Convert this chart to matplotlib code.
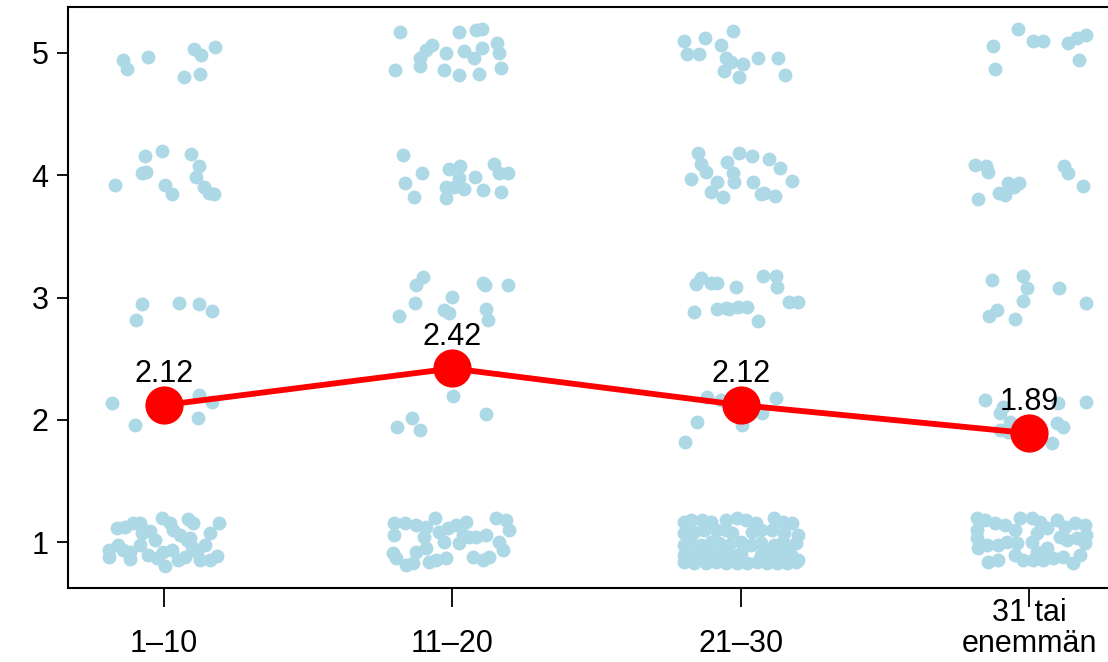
import matplotlib
matplotlib.use("Agg")
import matplotlib.pyplot as plt
import numpy as np

plt.rcParams['font.family'] = ['Liberation Sans', 'DejaVu Sans']

# group labels and means
groups = ["1\u201310", "11\u201320", "21\u201330", "31 tai\nenemm\u00e4n"]
means = [2.12, 2.42, 2.12, 1.89]
mean_labels = ["2.12", "2.42", "2.12", "1.89"]

# jittered answers (x jitter around group position, jittered y)
g1_dx = [-0.141, -0.127, -0.054, 0.069, 0.105, 0.128, 0.125, 0.177,
         -0.170, -0.075, -0.062, -0.066, -0.008, 0.003, 0.029, 0.093, 0.122, 0.111, 0.139, 0.156, 0.174,
         -0.077, -0.097, 0.052, 0.122, 0.165,
         -0.181, -0.101, 0.122, 0.165, 0.119,
         -0.164, -0.135, -0.106, -0.083, -0.077, -0.049, -0.008, 0.021, 0.032, 0.084, 0.102, 0.055,
         0.079, 0.160, 0.192, -0.190, -0.190, -0.159, -0.141, -0.118, -0.118, -0.054, -0.025, 0.003,
         -0.002, 0.027, 0.050, 0.073, 0.096, 0.113, 0.125, 0.160, 0.183, 0.090, -0.031, -0.083, 0.142]
g1_y = [4.941, 4.865, 4.968, 4.802, 5.031, 4.984, 4.827, 5.053,
        3.919, 4.015, 4.023, 4.154, 4.200, 3.919, 3.845, 4.170, 4.077, 3.987, 3.905, 3.856, 3.845,
        2.944, 2.815, 2.957, 2.944, 2.889,
        2.134, 1.957, 2.202, 2.147, 2.011,
        1.112, 1.125, 1.158, 1.158, 1.071, 1.092, 1.194, 1.153, 1.098, 1.186, 1.153, 1.057,
        1.016, 1.071, 1.153, 0.935, 0.875, 0.975, 0.935, 0.859, 0.921, 0.894, 0.867, 0.804,
        0.921, 0.935, 0.853, 0.880, 0.962, 0.921, 0.853, 0.853, 0.886, 1.030, 1.016, 0.975, 0.975]

g2_dx = [-0.180, -0.198, -0.111, -0.114, -0.091, -0.071, -0.022, -0.028, 0.022, 0.024, 0.042, 0.076,
         0.082, 0.103, 0.103, 0.091, 0.154, 0.161, 0.169,
         -0.172, -0.105, -0.166, -0.132, -0.013, 0.028, -0.022, -0.022, 0.024, 0.042, 0.080, 0.105,
         0.146, 0.163, 0.192, 0.169, 0.007,
         -0.103, -0.126, -0.128, -0.186, -0.001, -0.028, -0.010, 0.105, 0.114, 0.194, 0.117, 0.122,
         0.001, -0.193, -0.140, -0.114, 0.117,
         -0.201, -0.166, -0.126, -0.201, -0.207, -0.195, -0.161, -0.138, -0.126, -0.097, -0.091, -0.080,
         -0.057, -0.022, -0.062, -0.045, -0.016, 0.013, 0.048, 0.036, 0.024, 0.059, 0.082, 0.117,
         0.070, 0.105, 0.128, 0.152, 0.186, 0.198, 0.174, 0.163, -0.028, -0.091]
g2_y = [5.173, 4.859, 4.892, 4.963, 5.023, 5.064, 4.996, 4.859, 4.818, 5.173, 5.017, 4.963,
        5.186, 5.200, 5.037, 4.827, 5.078, 4.996, 4.881,
        4.164, 4.020, 3.933, 3.818, 4.050, 4.074, 3.900, 3.815, 3.974, 3.884, 3.987, 3.878,
        4.096, 4.015, 4.015, 3.864, 3.905,
        3.169, 3.101, 2.952, 2.848, 3.006, 2.897, 2.870, 3.115, 3.101, 3.101, 2.903, 2.815,
        2.196, 1.943, 2.011, 1.916, 2.047,
        1.153, 1.158, 1.139, 1.057, 0.908, 0.867, 0.812, 0.826, 0.921, 1.043, 0.948, 0.839,
        0.853, 0.867, 1.194, 1.084, 1.112, 1.139, 1.166, 1.057, 0.989, 1.043, 1.043, 1.057,
        0.880, 0.853, 0.880, 1.194, 1.180, 1.098, 0.935, 1.002, 1.002, 1.125]

g3_dx = [-0.197, -0.124, -0.185, -0.145, -0.067, -0.027, -0.052, -0.035, -0.058, 0.009, -0.006,
         0.061, 0.131, 0.154,
         -0.147, -0.139, -0.119, -0.173, -0.083, -0.104, -0.060, -0.046, -0.027, -0.023, -0.006,
         0.038, 0.043, 0.098, 0.136, 0.179, 0.069, 0.119, 0.081,
         -0.156, -0.139, -0.104, -0.081, -0.017, -0.162, -0.083, -0.052, -0.011, 0.023, 0.060,
         0.079, 0.121, 0.125, 0.168, 0.199, -0.041,
         -0.116, -0.069, 0.121, 0.075, -0.153, -0.193, 0.006,
         -0.197, -0.173, -0.133, -0.104, -0.052, -0.012, 0.017, 0.052, 0.116, 0.145, 0.179,
         -0.197, -0.162, -0.127, -0.087, -0.052, -0.029, 0.040, 0.069, 0.110, 0.150, 0.197,
         -0.197, -0.173, -0.139, -0.104, -0.075, -0.040, 0.000, 0.035, 0.069, 0.116, 0.145, 0.191, 0.168,
         -0.197, -0.179, -0.145, -0.110, -0.069, -0.035, 0.000, 0.069, 0.098, 0.133, 0.173, 0.197,
         -0.197, -0.162, -0.121, -0.087, -0.052, -0.012, 0.023, 0.058, 0.092, 0.127, 0.162, 0.191]
g3_y = [5.099, 5.124, 4.988, 4.990, 5.064, 5.178, 4.960, 4.927, 4.851, 4.908, 4.805,
        4.960, 4.960, 4.818,
        4.178, 4.091, 4.028, 3.966, 3.946, 3.864, 3.823, 4.105, 4.020, 3.946, 4.186,
        4.159, 3.946, 4.129, 4.060, 3.954, 3.845, 3.832, 3.851,
        3.110, 3.156, 3.115, 3.115, 3.083, 2.883, 2.903, 2.911, 2.919, 2.924, 2.809,
        3.175, 3.175, 3.088, 2.965, 2.965, 2.903,
        2.188, 2.161, 2.180, 2.052, 1.984, 1.815, 1.957,
        1.166, 1.180, 1.180, 1.166, 1.180, 1.194, 1.180, 1.153, 1.194, 1.166, 1.153,
        1.071, 1.084, 1.098, 1.098, 1.098, 1.071, 1.084, 1.098, 1.098, 1.071, 1.057,
        0.975, 0.989, 0.975, 1.003, 0.989, 0.975, 1.003, 0.975, 0.989, 0.975, 1.003, 0.989, 0.948,
        0.894, 0.908, 0.894, 0.908, 0.921, 0.894, 0.908, 0.894, 0.908, 0.921, 0.894, 0.853,
        0.839, 0.826, 0.826, 0.839, 0.826, 0.826, 0.826, 0.839, 0.826, 0.826, 0.826, 0.839]

g4_dx = [-0.126, -0.118, -0.037, 0.013, 0.050, 0.134, 0.165, 0.198, 0.174,
         -0.187, -0.149, -0.143, -0.176, -0.103, -0.083, -0.072, -0.051, -0.034, 0.122, 0.136, 0.188,
         -0.129, -0.020, -0.008, -0.022, -0.112, -0.138, -0.049, 0.105, 0.198,
         -0.153, -0.091, -0.101, -0.066, -0.101, 0.102, 0.198, 0.096, 0.119, 0.079, -0.072,
         -0.182, -0.153, -0.118, -0.083, -0.182, -0.182, -0.176, -0.147, -0.106, -0.077, -0.141,
         -0.106, -0.049, -0.043, -0.049, -0.020, -0.031, 0.009, 0.038, 0.061, 0.027, 0.009, 0.027,
         0.061, 0.084, 0.119, 0.154, 0.177, 0.194, 0.160, 0.125, 0.096, 0.131, 0.165, 0.198,
         0.194, 0.108, 0.050, 0.015]
g4_y = [5.058, 4.873, 5.200, 5.099, 5.099, 5.078, 5.119, 5.146, 4.941,
        4.083, 4.077, 4.028, 3.805, 3.851, 3.837, 3.933, 3.905, 3.933, 4.077, 4.015, 3.911,
        3.142, 3.175, 3.074, 2.973, 2.897, 2.848, 2.823, 3.074, 2.952,
        2.161, 2.106, 2.052, 1.984, 1.916, 2.134, 2.142, 1.971, 1.943, 1.812, 1.902,
        1.194, 1.180, 1.153, 1.139, 1.098, 1.030, 0.948, 0.975, 0.975, 1.003, 0.839,
        0.853, 1.098, 0.989, 0.894, 0.853, 1.194, 1.200, 1.166, 1.112, 1.071, 1.003, 0.921,
        0.948, 0.866, 0.880, 0.826, 0.894, 1.139, 1.153, 1.125, 1.180, 1.016, 1.030, 1.057,
        0.989, 1.044, 0.853, 0.853]

jitter_dx = [g1_dx, g2_dx, g3_dx, g4_dx]
jitter_y = [g1_y, g2_y, g3_y, g4_y]

fig = plt.figure(figsize=(11.08, 6.62), dpi=100)
ax = fig.add_axes([0.0614, 0.1118, 0.954, 0.8776])

pos = np.arange(1, len(groups) + 1)

for i in range(len(groups)):
    xs = pos[i] + np.array(jitter_dx[i])
    ax.plot(xs, jitter_y[i], 'o', color='lightblue', ms=10, mec='none', zorder=1)

ax.plot(pos, means, '-', color='red', lw=4.2, zorder=2)
ax.plot(pos, means, 'o', color='red', ms=27.5, mec='none', zorder=3)
for i in range(len(groups)):
    ax.annotate(mean_labels[i], (pos[i], means[i]), xytext=(0, 16.5), textcoords='offset points',
                ha='center', va='baseline', fontsize=22, zorder=4)

ax.set_xlim(0.667, 4.333)
ax.set_ylim(0.624, 5.376)
ax.set_xticks(pos)
ax.set_xticklabels(groups, fontsize=22, linespacing=1.05)
for lab in ax.get_xticklabels():
    lab.set_verticalalignment('bottom')
ax.set_yticks([1, 2, 3, 4, 5])
ax.set_yticklabels(["1", "2", "3", "4", "5"], fontsize=22)
ax.tick_params(axis='x', length=13.7, width=1.3, pad=37.5)
ax.tick_params(axis='y', length=8, width=1.3, pad=6)
ax.spines['right'].set_visible(False)
for s in ['left', 'top', 'bottom']:
    ax.spines[s].set_linewidth(1.5)

fig.savefig("out.png", dpi=100)
